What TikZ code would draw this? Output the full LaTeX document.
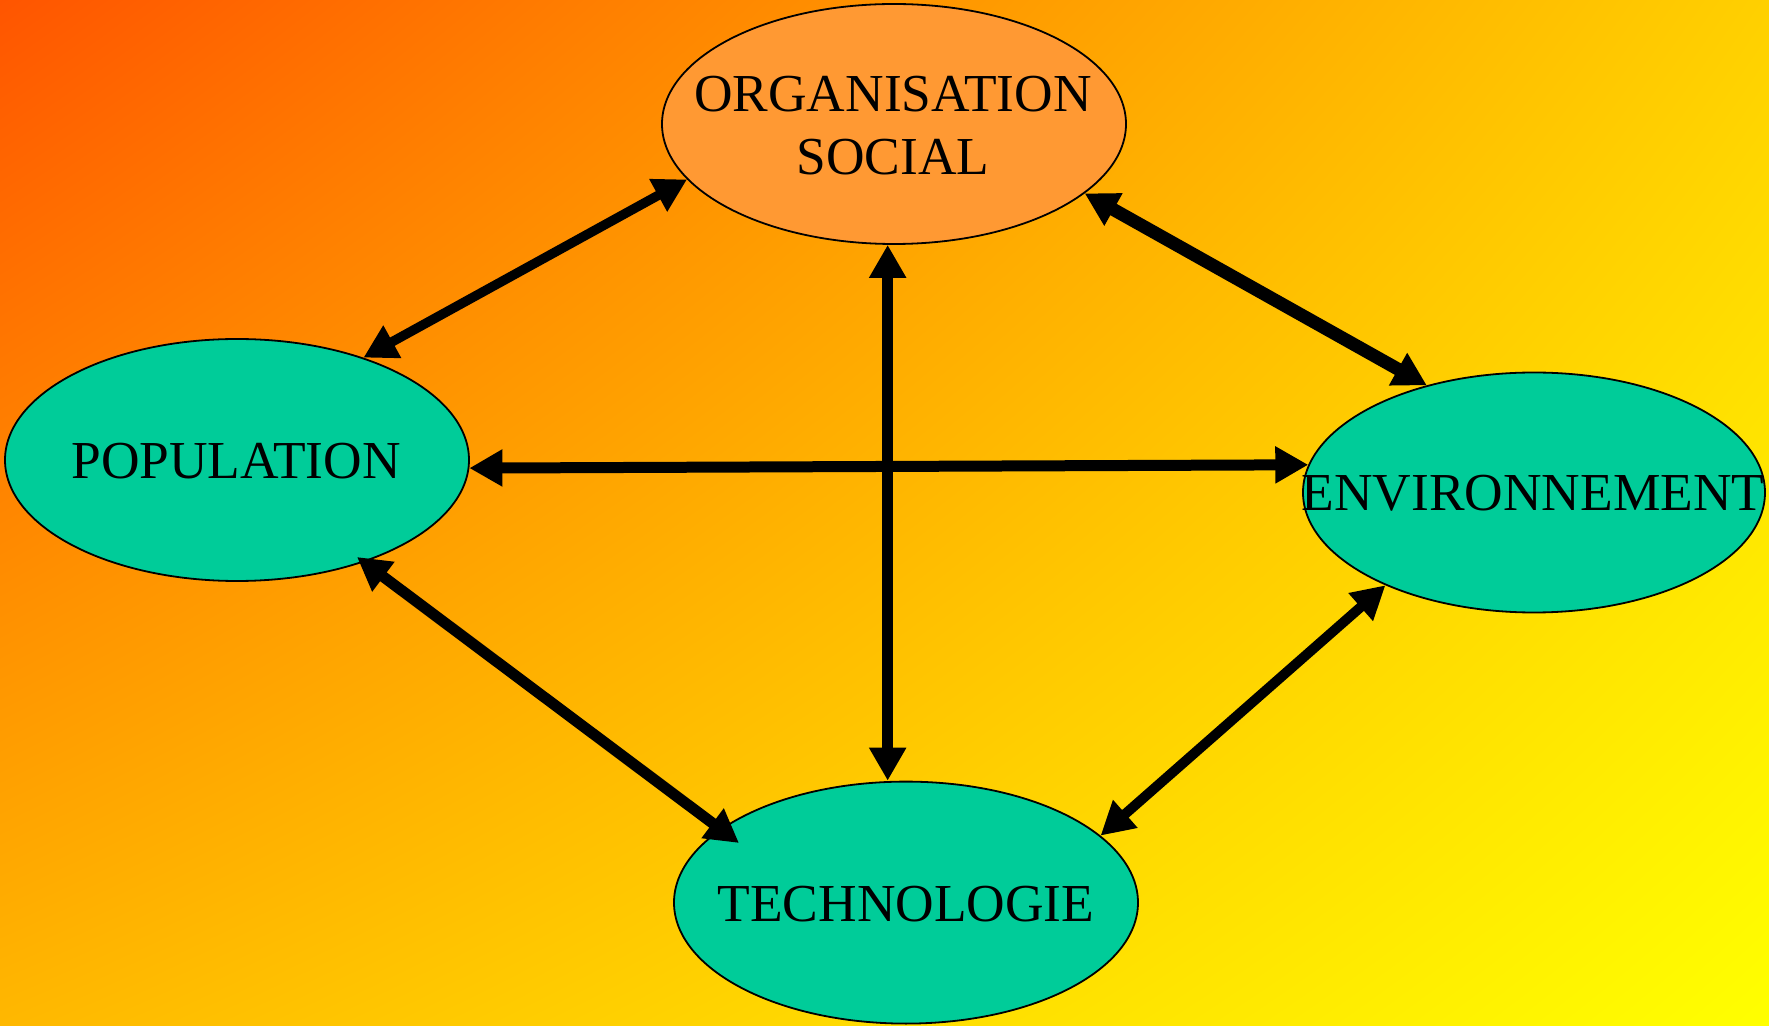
\documentclass[tikz,border=0pt]{standalone}
\usepackage{fontspec}
\setmainfont{Liberation Serif}
\usetikzlibrary{arrows.meta,shapes.geometric,shadings,calc}
\definecolor{bgTL}{HTML}{FF5500}
\definecolor{bgTR}{HTML}{FFD000}
\definecolor{bgBL}{HTML}{FFB800}
\definecolor{bgBR}{HTML}{FFFF00}
\definecolor{osfill}{HTML}{FF9933}
\definecolor{greenfill}{HTML}{00CC99}
\begin{document}
\begin{tikzpicture}[x=0.5pt,y=-0.5pt,
  blob/.style={ellipse, draw=black, line width=0.9pt, inner sep=0pt,
    minimum width=232pt, minimum height=120pt},
  lbl/.style={font=\fontsize{26.7}{31.5}\selectfont, align=center, inner sep=0pt, text=black},
  link/.style={{Triangle[length=16.5pt,width=17.5pt]}-{Triangle[length=16.5pt,width=17.5pt]},
    line width=5.5pt, draw=black}]
\useasboundingbox (0,0) rectangle (1769,1026);
\shade[upper left=bgTL, upper right=bgTR, lower left=bgBL, lower right=bgBR]
  (0,0) rectangle (1769,1026);
% ellipses
\node[blob, fill=osfill] (os) at (894,124) {};
\node[blob, fill=greenfill, minimum height=121pt] (pop) at (237,460) {};
\node[blob, fill=greenfill, minimum width=231pt] (env) at (1534,492.5) {};
\node[blob, fill=greenfill, minimum height=121pt] (tech) at (906,902.6) {};
% labels
\node[lbl] (osT) at (893,126) {ORGANISATION\\SOCIAL};
\node[lbl] (popT) at (236,461) {POPULATION};
\node[lbl] (envT) at (1533,493) {ENVIRONNEMENT};
\node[lbl] (techT) at (906,904) {TECHNOLOGIE};
% connectors
\draw[link, line width=4.75pt] (pop.39) -- (os.195);
\draw[link, line width=6.5pt] (os.-20) -- (env.135);
\draw[link] (pop.-2) -- (env.173);
\draw[link] ($(pop.center)+(120,97)$) -- ($(tech.center)+(-167,-59.6)$);
\draw[link, line width=5pt] (tech.19) -- (env.212);
\draw[link] (os.-93) -- (os.-93 |- tech.north);
\end{tikzpicture}
\end{document}
